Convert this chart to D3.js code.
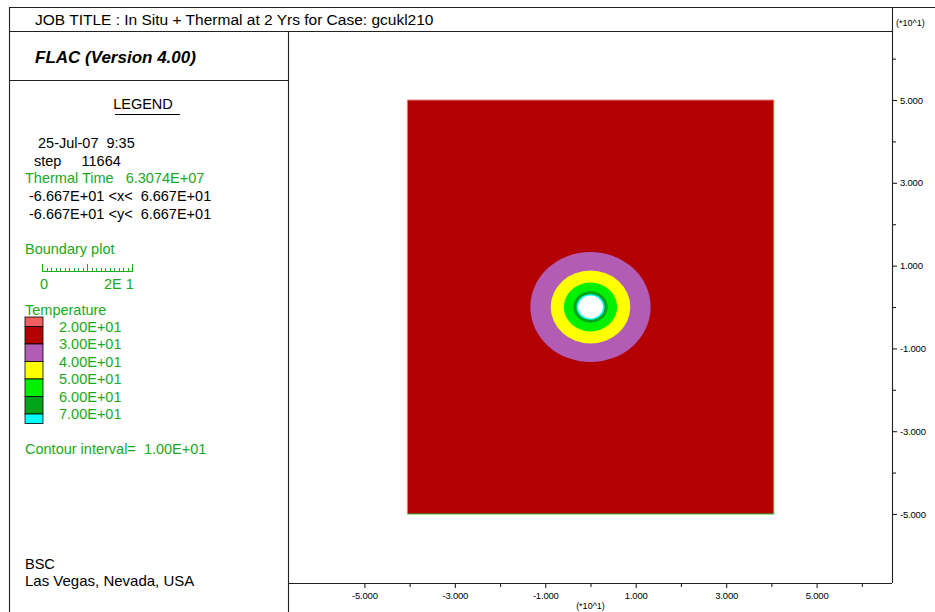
<!DOCTYPE html>
<html>
<head>
<meta charset="utf-8">
<script src="https://cdn.jsdelivr.net/npm/d3@7"></script>
<style>
  html, body { margin: 0; padding: 0; background: #fff; }
  svg { display: block; font-family: "Liberation Sans", Arial, sans-serif; }
</style>
</head>
<body>
<svg id="chart" width="935" height="612"></svg>
<script>
// ---- Plot data (model coordinates in metres) ----
const jobTitle = "JOB TITLE : In Situ + Thermal at 2 Yrs for Case: gcukl210";
const versionText = "FLAC (Version 4.00)";
const legendInfo = ["25-Jul-07  9:35", "step     11664"];
const thermalTime = "Thermal Time   6.3074E+07";
const extentLines = ["-6.667E+01 <x<  6.667E+01", "-6.667E+01 <y<  6.667E+01"];
const modelExtent = [-66.67, 66.67];

// Temperature contour levels and the band fill colours (below first level .. above last)
const tempLevels = [20, 30, 40, 50, 60, 70];
const bandColors = ["#f06060", "#b30000", "#b25cb6", "#ffff00", "#00f000", "#00a41a", "#00ffff"];

// Outer radius (m) of each warm band around the drift, with the band it bounds
const bandIndex = [2, 3, 4, 5, 6];
const bandOuterRadius = [13.3, 8.8, 5.9, 3.8, 3.1];
const driftRadius = 2.75;

// Model boundary (m)
const boundaryX = [-40.5, 40.5];
const boundaryY = [-50, 50];

// Axis ticks (m); labels are shown in units of 10 m
const labeledTicks = [-50, -30, -10, 10, 30, 50];
const minorTicks = [-40, -20, 0, 20, 40, 60];

// Boundary-plot scale bar (m)
const scaleBarLength = 20;
const scaleBarLabels = ["0", "2E 1"];

const svg = d3.select("#chart");
const green = "#20a820";
const lineColor = "#222";

// ---- Frame ----
const frame = svg.append("g").attr("stroke", lineColor).attr("stroke-width", 1.1).attr("fill", "none");
frame.append("line").attr("x1", 9).attr("y1", 7.5).attr("x2", 935).attr("y2", 7.5);
frame.append("line").attr("x1", 9.5).attr("y1", 7).attr("x2", 9.5).attr("y2", 612);
frame.append("line").attr("x1", 9).attr("y1", 31.5).attr("x2", 892).attr("y2", 31.5);
frame.append("line").attr("x1", 288.5).attr("y1", 31).attr("x2", 288.5).attr("y2", 612);
frame.append("line").attr("x1", 9).attr("y1", 80.5).attr("x2", 288).attr("y2", 80.5);

svg.append("text").attr("x", 35).attr("y", 25).attr("font-size", 15.5).text(jobTitle);
svg.append("text").attr("x", 35).attr("y", 63).attr("font-size", 17)
  .attr("font-weight", "bold").attr("font-style", "italic").text(versionText);

// ---- Plot area scales ----
const x = d3.scaleLinear().domain(modelExtent).range([289, 892]);
const y = d3.scaleLinear().domain(modelExtent).range([583, 31]);

const plot = svg.append("g");

// Background temperature band filling the model
plot.append("rect")
  .attr("x", x(boundaryX[0])).attr("y", y(boundaryY[1]))
  .attr("width", x(boundaryX[1]) - x(boundaryX[0]))
  .attr("height", y(boundaryY[0]) - y(boundaryY[1]))
  .attr("fill", bandColors[1]);

// Warmer bands around the drift, outermost first
bandOuterRadius.forEach((r, i) => {
  plot.append("ellipse")
    .attr("cx", x(0)).attr("cy", y(0))
    .attr("rx", x(r) - x(0)).attr("ry", y(0) - y(r))
    .attr("fill", bandColors[bandIndex[i]]);
});
// Excavated drift
plot.append("ellipse")
  .attr("cx", x(0)).attr("cy", y(0))
  .attr("rx", x(driftRadius) - x(0)).attr("ry", y(0) - y(driftRadius))
  .attr("fill", "#ffffff");

// Model boundary outline
plot.append("path")
  .attr("d", `M${x(boundaryX[1])},${y(boundaryY[1])} L${x(boundaryX[1])},${y(boundaryY[0])} L${x(boundaryX[0])},${y(boundaryY[0])}`)
  .attr("fill", "none").attr("stroke", "#30c030").attr("stroke-width", 1.2);
plot.append("path")
  .attr("d", `M${x(boundaryX[0])},${y(boundaryY[0])} L${x(boundaryX[0])},${y(boundaryY[1])} L${x(boundaryX[1])},${y(boundaryY[1])}`)
  .attr("fill", "none").attr("stroke", "#e88080").attr("stroke-width", 1);

// ---- Axes ----
const fmt = v => (v / 10).toFixed(3);
const axisG = svg.append("g");

const xAxis = axisG.append("g").attr("transform", `translate(0,583)`)
  .call(d3.axisBottom(x).tickValues(labeledTicks).tickFormat(fmt).tickSize(5).tickSizeOuter(0));
axisG.append("g").attr("transform", `translate(0,583)`)
  .call(d3.axisBottom(x).tickValues(minorTicks).tickFormat("").tickSize(4).tickSizeOuter(0))
  .select(".domain").remove();
xAxis.select(".domain").attr("d", `M288,0.5H892`);

const yAxis = axisG.append("g").attr("transform", `translate(892,0)`)
  .call(d3.axisRight(y).tickValues(labeledTicks).tickFormat(fmt).tickSize(5).tickSizeOuter(0));
axisG.append("g").attr("transform", `translate(892,0)`)
  .call(d3.axisRight(y).tickValues(minorTicks).tickFormat("").tickSize(4).tickSizeOuter(0))
  .select(".domain").remove();
yAxis.select(".domain").attr("d", `M0.5,7V583`);

axisG.selectAll(".domain, .tick line").attr("stroke", lineColor).attr("stroke-width", 1.1);
axisG.selectAll(".tick text")
  .attr("font-family", "'Liberation Sans', Arial, sans-serif")
  .attr("font-size", 9.5).attr("letter-spacing", -0.2).attr("fill", "#000");
xAxis.selectAll(".tick text").attr("y", 9);
yAxis.selectAll(".tick text").attr("x", 8);

svg.append("text").attr("x", x(0)).attr("y", 609).attr("text-anchor", "middle")
  .attr("font-size", 9).text("(*10^1)");
svg.append("text").attr("x", 896).attr("y", 26)
  .attr("font-size", 9).text("(*10^1)");

// ---- Legend panel ----
const lg = svg.append("g").attr("font-size", 14.5);
lg.append("text").attr("x", 143).attr("y", 109).attr("text-anchor", "middle").text("LEGEND");
lg.append("line").attr("x1", 115).attr("x2", 180).attr("y1", 114.5).attr("y2", 114.5)
  .attr("stroke", "#000").attr("stroke-width", 1);

lg.append("text").attr("x", 38).attr("y", 148).text(legendInfo[0]).attr("xml:space", "preserve");
lg.append("text").attr("x", 34).attr("y", 166).text(legendInfo[1]).attr("xml:space", "preserve");
lg.append("text").attr("x", 25).attr("y", 183).attr("fill", green).text(thermalTime).attr("xml:space", "preserve");
extentLines.forEach((t, i) => {
  lg.append("text").attr("x", 29).attr("y", 201 + i * 17.5).text(t).attr("xml:space", "preserve");
});

lg.append("text").attr("x", 25).attr("y", 254).attr("fill", green).text("Boundary plot");

// Scale bar drawn with the model's horizontal scale
const barX0 = 42;
const bar = d3.scaleLinear().domain([0, scaleBarLength]).range([barX0, barX0 + (x(scaleBarLength) - x(0))]);
const barG = lg.append("g").attr("stroke", green).attr("stroke-width", 1);
barG.append("line").attr("x1", bar(0)).attr("x2", bar(scaleBarLength)).attr("y1", 271.5).attr("y2", 271.5);
d3.range(0, scaleBarLength + 1, 1).forEach(v => {
  const big = v % 10 === 0;
  barG.append("line").attr("x1", Math.round(bar(v)) + 0.5).attr("x2", Math.round(bar(v)) + 0.5)
    .attr("y1", 272).attr("y2", big ? 264 : 268);
});
lg.append("text").attr("x", 40).attr("y", 289).attr("fill", green).text(scaleBarLabels[0]);
lg.append("text").attr("x", 104).attr("y", 289).attr("fill", green).text(scaleBarLabels[1]);

lg.append("text").attr("x", 25).attr("y", 315).attr("fill", green).text("Temperature");

// Colour swatches with the level value between adjacent bands
const swTop = 317, swH = 17.5, swCapH = 9.5;
bandColors.forEach((c, i) => {
  const top = i === 0 ? swTop : swTop + swCapH + (i - 1) * swH;
  const h = (i === 0 || i === bandColors.length - 1) ? swCapH : swH;
  lg.append("rect").attr("x", 25).attr("y", top).attr("width", 18).attr("height", h)
    .attr("fill", c).attr("stroke", "#000").attr("stroke-width", 0.8);
});
tempLevels.forEach((v, i) => {
  lg.append("text").attr("x", 59).attr("y", swTop + swCapH + i * swH + 5)
    .attr("fill", green).text(d3.format(".2e")(v).replace("e+", "E+0").toUpperCase());
});

lg.append("text").attr("x", 25).attr("y", 454).attr("fill", green)
  .attr("xml:space", "preserve").text("Contour interval=  1.00E+01");

lg.append("text").attr("x", 25).attr("y", 569).text("BSC");
lg.append("text").attr("x", 25).attr("y", 586).attr("font-size", 15).text("Las Vegas, Nevada, USA");
</script>
</body>
</html>
